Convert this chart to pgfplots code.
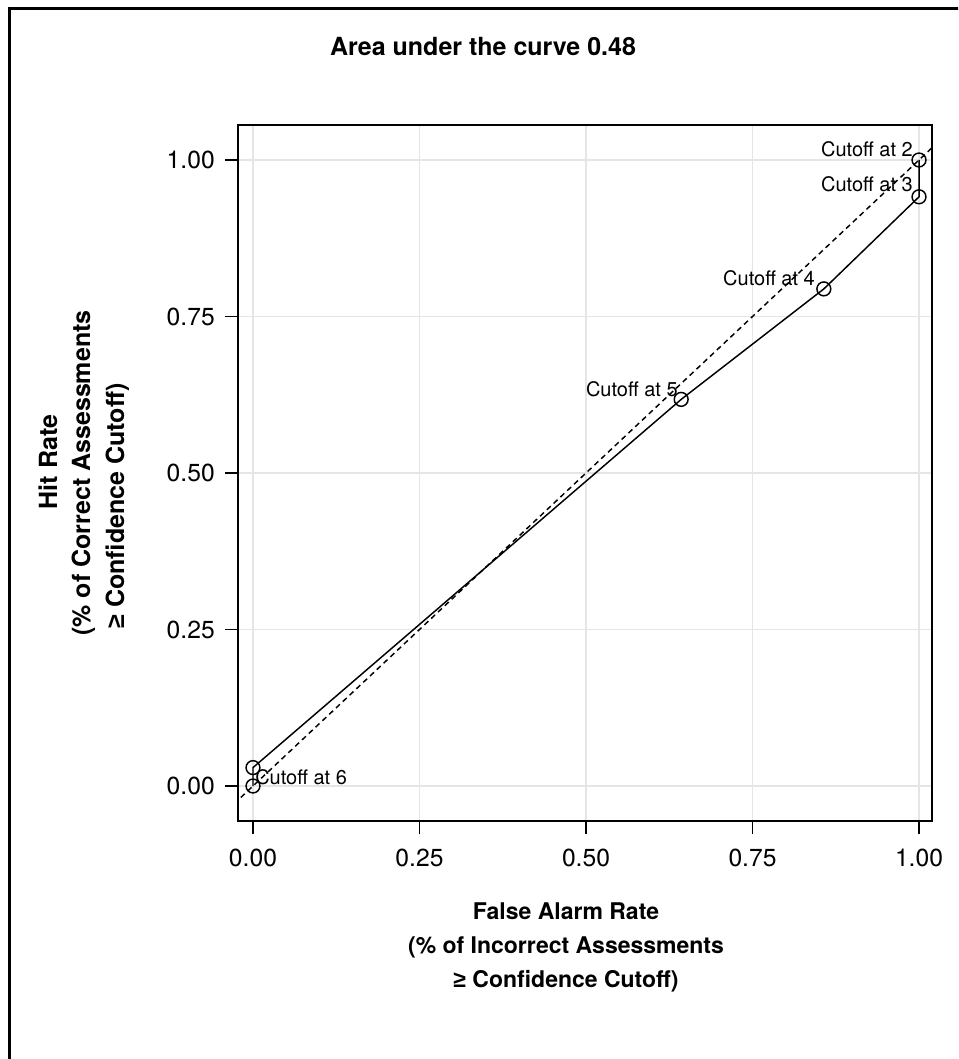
\documentclass[border=0pt]{standalone}
\usepackage{fontspec}
\setmainfont{TeX Gyre Heros}
\newfontfamily\symf{Liberation Sans}
\usepackage{pgfplots}
\pgfplotsset{compat=1.18}

\begin{document}
\begin{tikzpicture}
\useasboundingbox (0,0) rectangle (718.5pt,-794.25pt);
% outer frame (only top and left edges show)
\begin{scope}
\clip (0,0) rectangle (718.5pt,-794.25pt);
\draw[line width=2.25pt] (6.75pt,-820pt) -- (6.75pt,-6.75pt) -- (740pt,-6.75pt);
\end{scope}

\begin{axis}[
  at={(178.5pt,-615.75pt)}, anchor=south west,
  scale only axis, width=520.5pt, height=522pt,
  xmin=-0.0225, xmax=1.0195, ymin=-0.0559, ymax=1.0559,
  xtick={0,0.25,0.5,0.75,1}, xticklabels={0.00,0.25,0.50,0.75,1.00},
  ytick={0,0.25,0.5,0.75,1}, yticklabels={0.00,0.25,0.50,0.75,1.00},
  xtick pos=bottom, ytick pos=left,
  tick align=outside, major tick length=9.75pt,
  tick style={line width=1.1pt, black},
  axis line style={line width=1.3pt},
  grid=major, grid style={line width=1pt, color=black!10},
  tick label style={font=\fontsize{18.5}{20}\selectfont},
  xticklabel style={inner sep=0pt, anchor=north, yshift=-11pt},
  yticklabel style={inner sep=0pt, anchor=east, xshift=-7.5pt},
]
\addplot[black, line width=1.1pt, dash pattern=on 4pt off 3pt] coordinates {(-0.1,-0.1) (1.1,1.1)};
\addplot[black, line width=1.1pt, mark=o, mark size=5.2pt, mark options={solid, line width=1.1pt}]
  coordinates {
    (0,0) (0,0.0294) (0.6429,0.6176) (0.8571,0.7941) (1,0.9412) (1,1)
  };
\begin{scope}[every node/.style={inner sep=0pt, font=\fontsize{15}{17}\selectfont}]
\node[anchor=base east] at (axis cs:0.991,1.006) {Cutoff at 2};
\node[anchor=base east] at (axis cs:0.991,0.949) {Cutoff at 3};
\node[anchor=base east] at (axis cs:0.844,0.799) {Cutoff at 4};
\node[anchor=base east] at (axis cs:0.638,0.623) {Cutoff at 5};
\node[anchor=base west] at (axis cs:0.003,0.003) {Cutoff at 6};
\end{scope}
\end{axis}

\begin{scope}[every node/.style={inner sep=0pt, font=\bfseries\fontsize{17.25}{20}\selectfont}]
\node[anchor=base, font=\bfseries\fontsize{18.75}{20}\selectfont] at (362.25pt,-42pt) {Area under the curve 0.48};
\node[anchor=base] at (424.5pt,-689.25pt) {False Alarm Rate};
\node[anchor=base] at (424.5pt,-714.75pt) {(\% of Incorrect Assessments};
\node[anchor=base] at (424.5pt,-740.25pt) {{\symf ≥} Confidence Cutoff)};
\end{scope}
\begin{scope}[every node/.style={inner sep=0pt, rotate=90, anchor=base, font=\bfseries\fontsize{18.75}{20}\selectfont}]
\node at (42.75pt,-346.5pt) {Hit Rate};
\node at (67.5pt,-354.75pt) {(\% of Correct Assessments};
\node at (93pt,-379.5pt) {{\symf ≥} Confidence Cutoff)};
\end{scope}
\end{tikzpicture}
\end{document}
